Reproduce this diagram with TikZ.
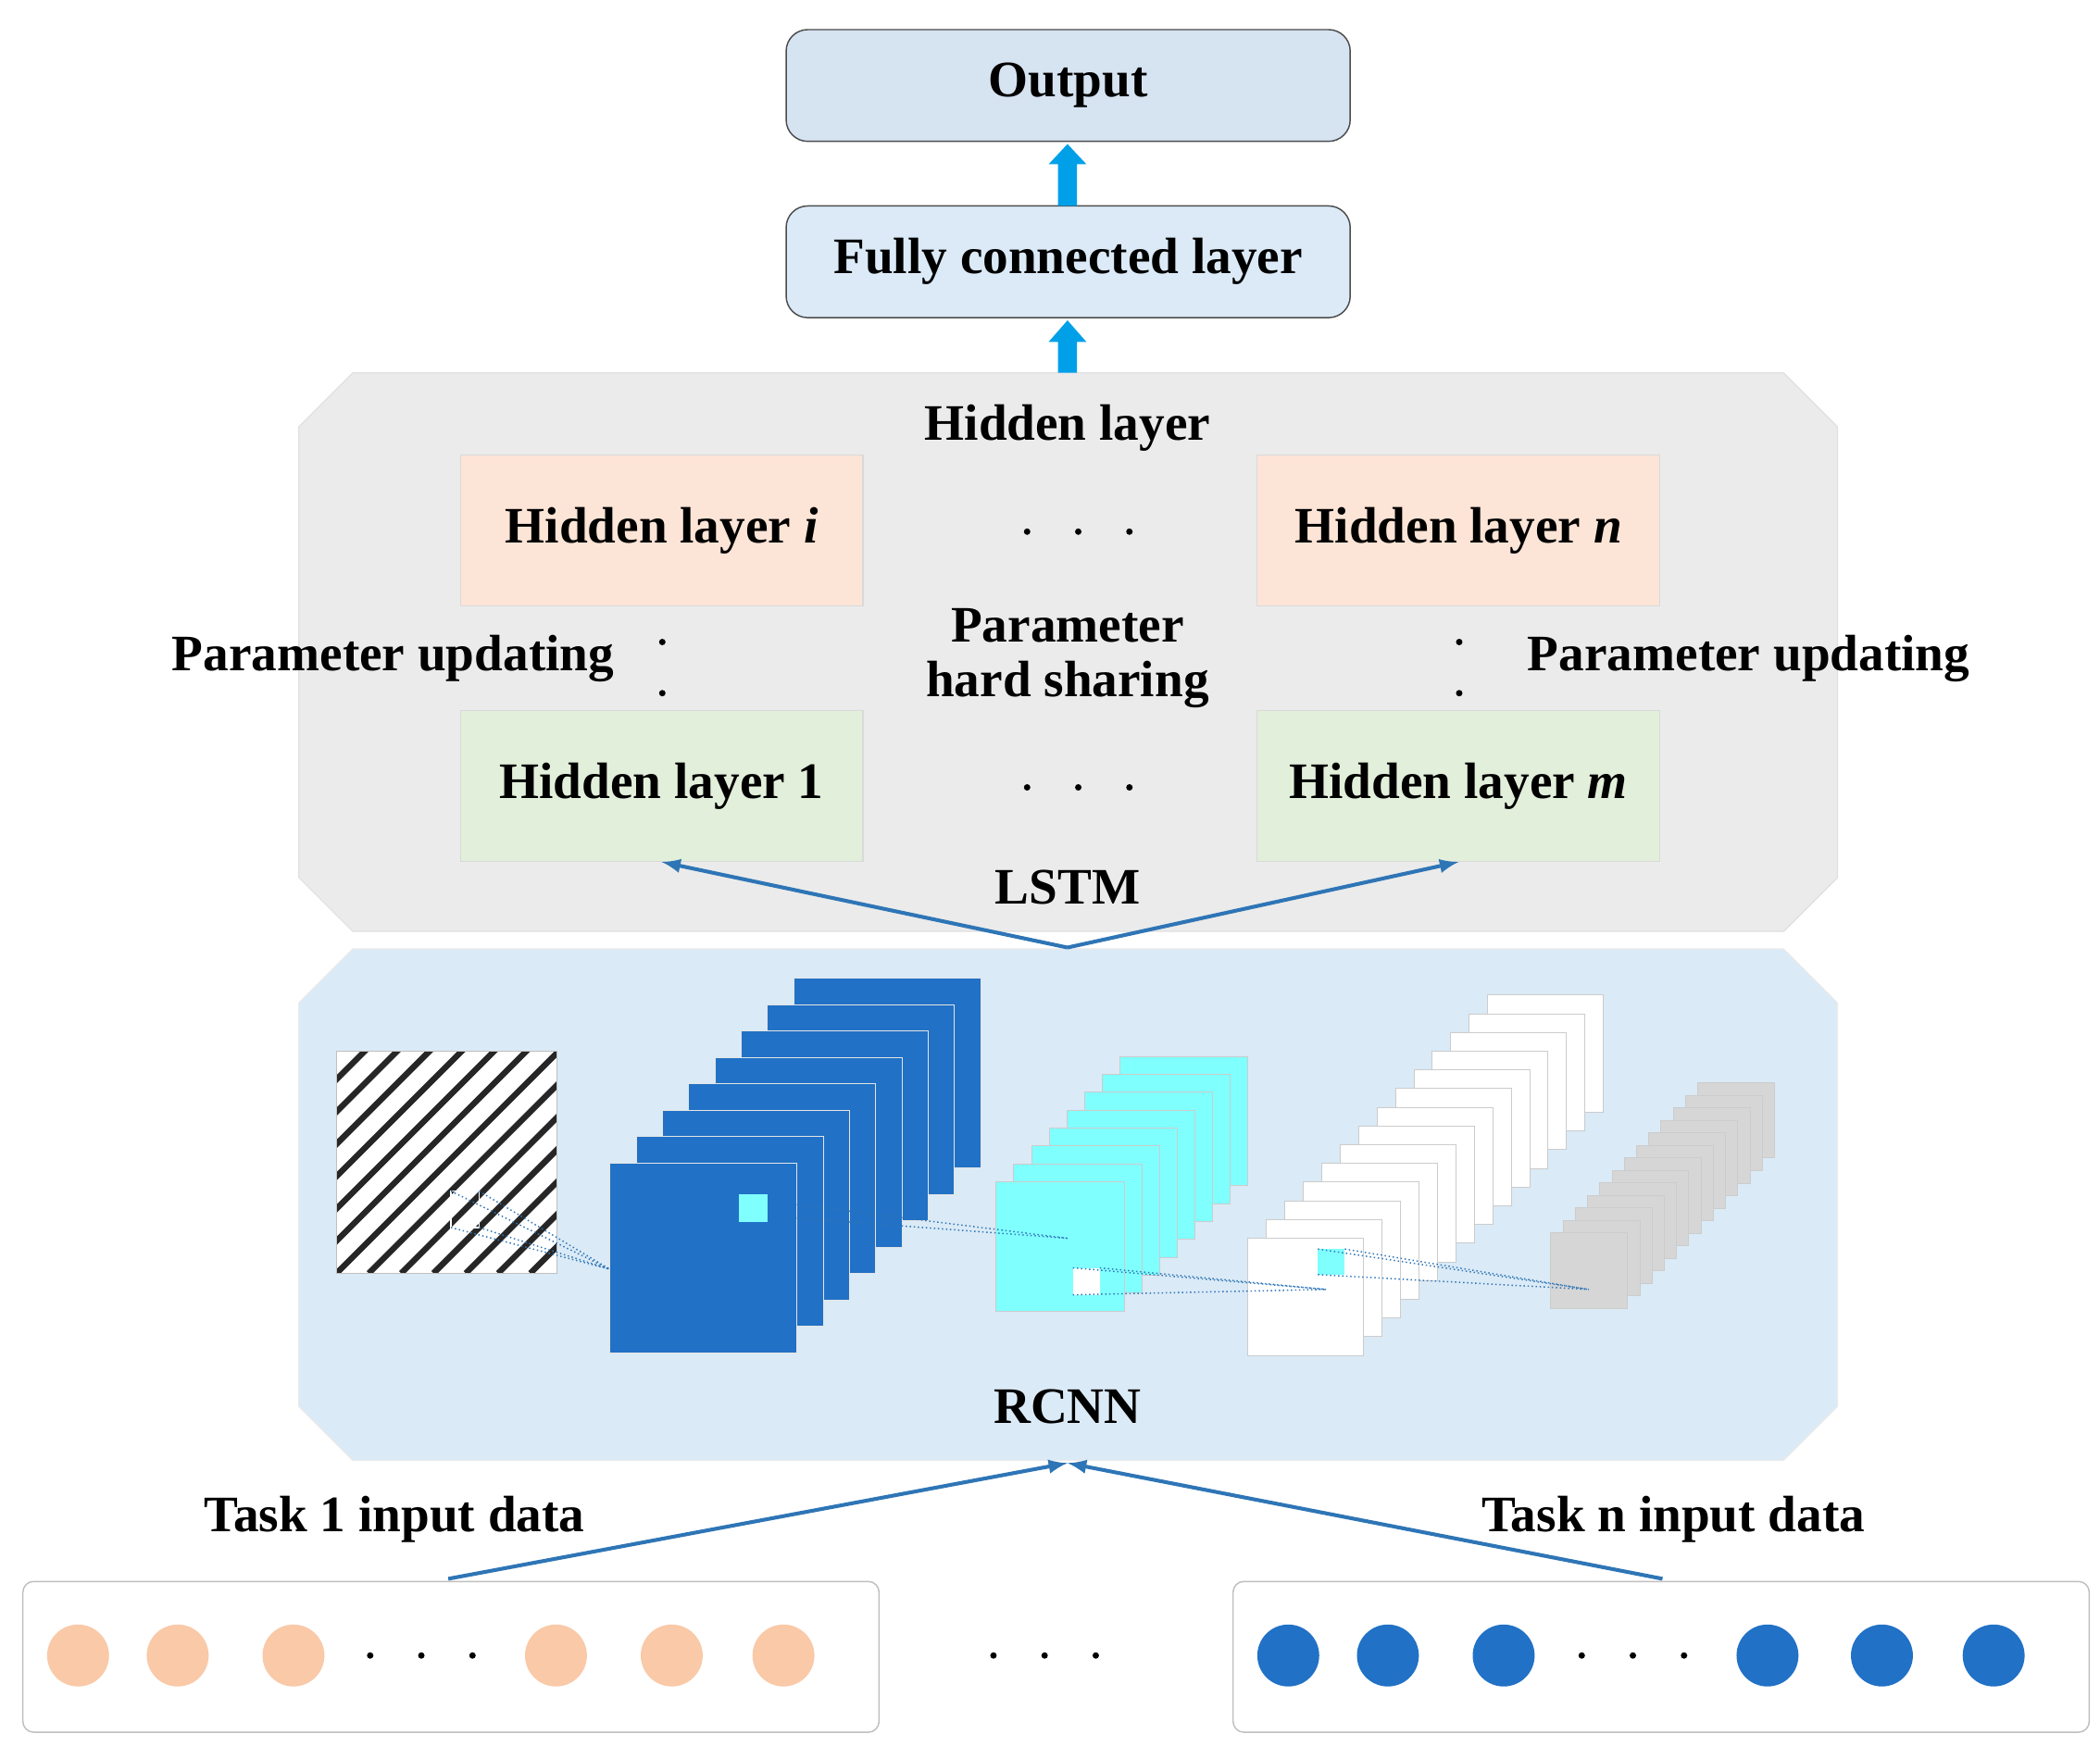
\documentclass[tikz,border=0pt]{standalone}
\usepackage{fontspec}
\setmainfont{Liberation Serif}
\begin{document}
\begin{tikzpicture}[x=0.5pt,y=-0.5pt,
  lbl/.style={font=\fontsize{19}{21}\selectfont\bfseries},
  topbox/.style={draw=black!70,rounded corners=8pt,line width=0.5pt},
  hid/.style={draw=black!15,line width=0.4pt},
  link/.style={draw=lnk,line width=1.4pt,-latex},
  dl/.style={draw=lnk,densely dotted,line width=0.5pt},
  inbox/.style={draw=black!25,rounded corners=4pt,line width=0.5pt,fill=white},
  pc/.style={circle,minimum size=23pt,inner sep=0pt,fill=peachc},
  bc/.style={circle,minimum size=23pt,inner sep=0pt,fill=ltstk}]
\definecolor{ltstk}{HTML}{2171C6}
\definecolor{lnk}{HTML}{2E75B6}
\definecolor{peachc}{HTML}{F9C9A8}
\definecolor{rcnnbg}{HTML}{DAEAF6}
\definecolor{cyn}{HTML}{80FFFF}
\useasboundingbox (0,0) rectangle (1560,1297);
% regions
\draw[fill=black!8,draw=black!12] (262,277)--(1325,277)--(1365,317)--(1365,652)--(1325,692)--(262,692)--(222,652)--(222,317)--cycle;
\draw[fill=rcnnbg,draw=black!8] (262,705)--(1325,705)--(1365,745)--(1365,1045)--(1325,1085)--(262,1085)--(222,1045)--(222,745)--cycle;
\node[topbox,fill={rgb,255:red,214;green,227;blue,241},minimum width=209.5pt,minimum height=41.5pt,lbl] (out) at (793.5,63.5) {Output};
\node[topbox,fill={rgb,255:red,219;green,234;blue,246},minimum width=209.5pt,minimum height=41.5pt,lbl] (fc) at (793.5,194.5) {Fully connected layer};
% block arrows
\fill[fill={rgb,255:red,0;green,160;blue,233}] (786,153)--(786,122)--(779,122)--(793,107)--(807,122)--(800,122)--(800,153)--cycle;
\fill[fill={rgb,255:red,0;green,160;blue,233}] (786,277)--(786,254)--(779,254)--(793,238)--(807,254)--(800,254)--(800,277)--cycle;
\node[lbl] (hl) at (793,318) {Hidden layer};
\node[hid,fill={rgb,255:red,252;green,228;blue,214},minimum width=149.5pt,minimum height=56pt,lbl] (hi) at (491.5,394) {Hidden layer \textit{i}};
\node[hid,fill={rgb,255:red,252;green,228;blue,214},minimum width=149.5pt,minimum height=56pt,lbl] (hn) at (1083.5,394) {Hidden layer \textit{n}};
\node[hid,fill={rgb,255:red,226;green,239;blue,218},minimum width=149.5pt,minimum height=56pt,lbl] (h1) at (491.5,584) {Hidden layer 1};
\node[hid,fill={rgb,255:red,226;green,239;blue,218},minimum width=149.5pt,minimum height=56pt,lbl] (hm) at (1083.5,584) {Hidden layer \textit{m}};
\foreach \x in {763,801,839}{\fill (\x,395) circle (1.2pt); \fill (\x,585) circle (1.2pt);}
\foreach \y in {477,515}{\fill (492,\y) circle (1.2pt); \fill (1084,\y) circle (1.2pt);}
\node[lbl] (pl) at (292,489) {Parameter updating};
\node[lbl] (pr) at (1299,489) {Parameter updating};
\node[lbl,align=center] (ps) at (793,489) {Parameter\\[-1pt]hard sharing};
\node[lbl] (lstm) at (793,659) {LSTM};
\coordinate (lb) at (793,704);
\draw[link] (lb) -- (h1.south);
\draw[link] (lb) -- (hm.south);
% RCNN content
\begin{scope}
\clip (250,781) rectangle (414,946);
\fill[white] (250,781) rectangle (414,946);
\foreach \k in {-12,...,12}{\draw[black!85,line width=2.2pt] (250+\k*24,946) -- (250+\k*24+200,746);}
\end{scope}
\draw[black!25] (250,781) rectangle (414,946);
\foreach \i in {7,6,...,0}{\fill[ltstk] (453+19.5*\i,864-19.6*\i) rectangle ++(139,141); \draw[white!80!gray,line width=0.3pt] (453+19.5*\i,864-19.6*\i) rectangle ++(139,141);}
\fill[cyn] (549,887) rectangle (570,908);
\foreach \i in {7,6,...,0}{\fill[cyn] (740+13.1*\i,878-13.3*\i) rectangle ++(95,96); \draw[black!20,line width=0.3pt] (740+13.1*\i,878-13.3*\i) rectangle ++(95,96);}
\fill[white] (797,942) rectangle (817,962);
\foreach \i in {13,12,...,0}{\fill[white] (927+13.7*\i,920-13.9*\i) rectangle ++(86,87); \draw[black!20,line width=0.3pt] (927+13.7*\i,920-13.9*\i) rectangle ++(86,87);}
\fill[cyn] (979,928) rectangle (999,947);
\foreach \i in {12,11,...,0}{\fill[black!16] (1152+9.1*\i,916-9.3*\i) rectangle ++(57,56); \draw[black!20,line width=0.3pt] (1152+9.1*\i,916-9.3*\i) rectangle ++(57,56);}
\draw[white,line width=0.5pt] (335,885) rectangle (356,912);
\foreach \p in {(335,885),(356,885),(335,912),(356,912)}{\draw[dl] \p -- (453,943);}
\draw[dl] (592,905) -- (793,920); \draw[dl] (592,895) -- (793,920);
\draw[dl] (797,942) -- (985,958); \draw[dl] (817,942) -- (985,958); \draw[dl] (797,962) -- (985,958);
\draw[dl] (979,928) -- (1180,958); \draw[dl] (999,928) -- (1180,958); \draw[dl] (979,947) -- (1180,958);
\node[lbl] (rcnn) at (793,1045) {RCNN};
% inputs
\node[inbox,minimum width=318pt,minimum height=56pt] (in1) at (335,1231) {};
\node[inbox,minimum width=318pt,minimum height=56pt] (inn) at (1234,1231) {};
\coordinate (rb) at (793,1087);
\coordinate (t1) at (333,1173);
\coordinate (tn) at (1235,1173);
\draw[link] (t1) -- (rb);
\draw[link] (tn) -- (rb);
\node[lbl] (l1) at (293,1129) {Task 1 input data};
\node[lbl] (ln) at (1243,1129) {Task n input data};
\foreach \x [count=\j] in {58,132,218,413,499,582}{\node[pc] (p\j) at (\x,1230) {};}
\foreach \x [count=\j] in {957,1031,1117,1313,1398,1481}{\node[bc] (b\j) at (\x,1230) {};}
\foreach \x in {275,313,351,738,776,814,1175,1213,1251}{\fill (\x,1230) circle (1.2pt);}
\end{tikzpicture}
\end{document}
